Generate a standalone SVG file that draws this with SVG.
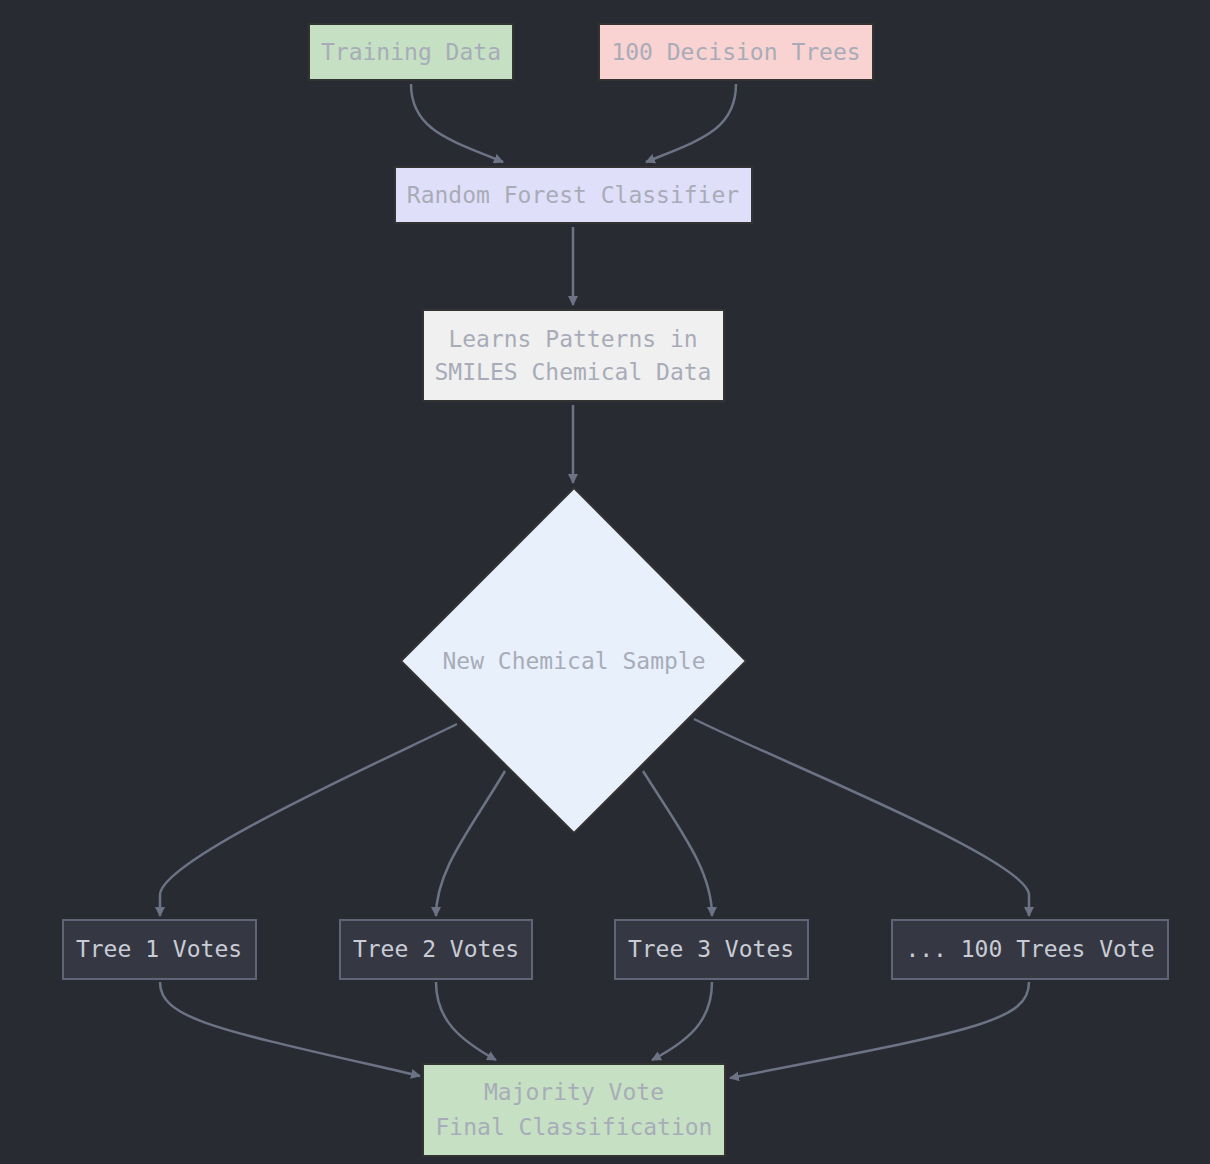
<svg xmlns="http://www.w3.org/2000/svg" width="1210" height="1164" viewBox="0 0 1210 1164">
<style>
text{font-family:"DejaVu Sans Mono","Liberation Mono",monospace;font-size:23px;text-anchor:middle;dominant-baseline:central;fill:#a8acb8}
.n{stroke:#333;stroke-width:2}
.t rect{fill:#353843;stroke:#5f6577;stroke-width:2}
.t text{fill:#c9ccd4}
#edges path{fill:none;stroke:#6b7385;stroke-width:2.5;marker-end:url(#a)}
</style>
<defs><marker id="a" viewBox="0 0 10 10" refX="9" refY="5" markerWidth="10" markerHeight="10" markerUnits="userSpaceOnUse" orient="auto"><path d="M0,0L10,5L0,10z" fill="#6b7385"/></marker></defs>
<rect width="1210" height="1164" fill="#292b33"/>
<g id="edges">
<path d="M411,84C411,130 450,140 503,162"/>
<path d="M736,84C736,130 700,140 646,162"/>
<path d="M573,227V305"/>
<path d="M573,405V483"/>
<path d="M457,724C380,762 160,860 160,895V916"/>
<path d="M505,771C470,830 436,870 436,916"/>
<path d="M643,771C680,830 712,870 712,916"/>
<path d="M694,719C780,762 1029,860 1029,895V916"/>
<path d="M160,982C160,1020 220,1030 420,1076"/>
<path d="M436,982C436,1020 460,1040 496,1060"/>
<path d="M712,982C712,1020 690,1040 652,1060"/>
<path d="M1029,982C1029,1020 980,1030 730,1078"/>
</g>
<g id="training"><rect class="n" x="309" y="24" width="204" height="56" fill="#c6e0c4"/><text x="411" y="52">Training Data</text></g>
<g id="trees100"><rect class="n" x="599" y="24" width="274" height="56" fill="#f8d3d2"/><text x="736" y="52">100 Decision Trees</text></g>
<g id="rf"><rect class="n" x="395" y="167" width="357" height="56" fill="#e0dff9"/><text x="573" y="195">Random Forest Classifier</text></g>
<g id="learns"><rect class="n" x="423" y="310" width="301" height="91" fill="#f0f0f0"/><text x="573" y="339">Learns Patterns in</text><text x="573" y="372">SMILES Chemical Data</text></g>
<g id="sample"><path class="n" d="M574,488L746,661L574,833L401,661Z" fill="#e8f0fc"/><text x="574" y="661">New Chemical Sample</text></g>
<g id="t1" class="t"><rect x="63" y="920" width="193" height="59"/><text x="159" y="949">Tree 1 Votes</text></g>
<g id="t2" class="t"><rect x="340" y="920" width="192" height="59"/><text x="436" y="949">Tree 2 Votes</text></g>
<g id="t3" class="t"><rect x="615" y="920" width="193" height="59"/><text x="711" y="949">Tree 3 Votes</text></g>
<g id="t100" class="t"><rect x="892" y="920" width="276" height="59"/><text x="1030" y="949">... 100 Trees Vote</text></g>
<g id="majority"><rect class="n" x="423" y="1064" width="302" height="92" fill="#c6e0c4"/><text x="574" y="1092">Majority Vote</text><text x="574" y="1127">Final Classification</text></g>
</svg>
